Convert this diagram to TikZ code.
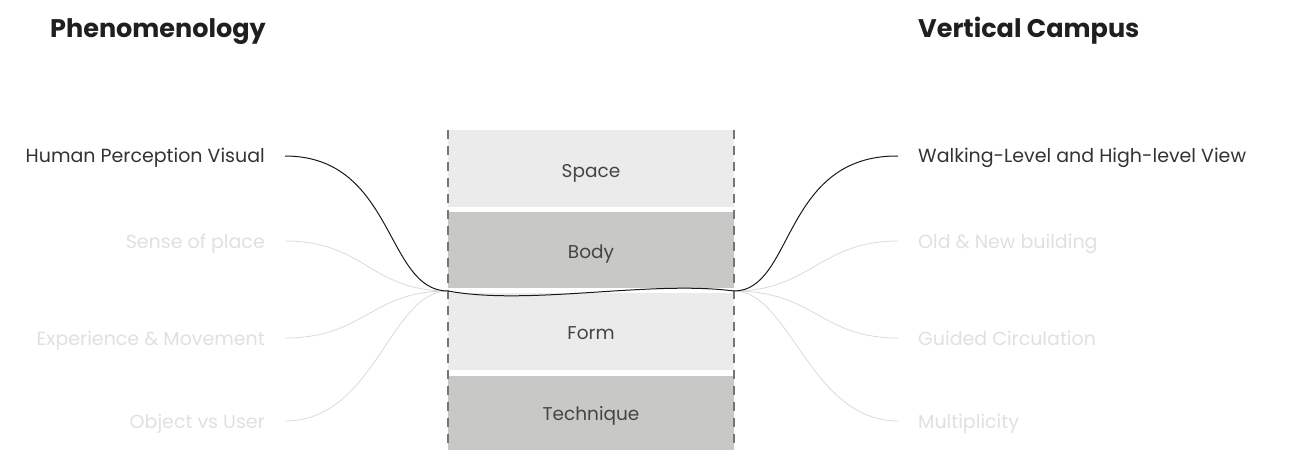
\documentclass[tikz,border=0pt]{standalone}
\usepackage{fontspec}
\setmainfont{Poppins}
\definecolor{boxlight}{HTML}{EBEBEB}
\definecolor{boxdark}{HTML}{C8C8C7}
\definecolor{dashgray}{HTML}{767676}
\definecolor{txtdark}{HTML}{333333}
\definecolor{txtlight}{HTML}{E0E0E0}
\definecolor{linelight}{HTML}{DADADA}
\definecolor{boxtxt}{HTML}{444444}
\begin{document}
\begin{tikzpicture}[x=1pt,y=-1pt,
  layer/.style={draw=none,minimum width=286pt,inner sep=0pt,text=boxtxt,font=\fontsize{18.5}{22}\selectfont},
  boxlbl/.style={inner sep=0pt,text=boxtxt,text height=0.7em,text depth=0pt,font=\fontsize{18.5}{22}\selectfont},
  lbl/.style={inner sep=0pt,text height=0.7em,text depth=0pt,font=\fontsize{19}{22}\selectfont},
  head/.style={inner sep=0pt,anchor=west,text height=0.7em,text depth=0pt,font=\fontsize{25.5}{28}\selectfont\bfseries,text=black!88},
  darkline/.style={draw=black!90,line width=1pt},
  lightline/.style={draw=linelight,line width=0.8pt},
  dashedge/.style={draw=dashgray,line width=1.5pt,dash pattern=on 9pt off 7pt}]
\useasboundingbox (0,0) rectangle (1294,450);
% headings
\node[head] (hphen) at (50,33.5) {Phenomenology};
\node[head] (hvert) at (918,33.5) {Vertical Campus};
% layers
\node[layer,fill=boxlight,minimum height=77pt] (space) at (591,168.5) {};
\node[layer,fill=boxdark,minimum height=76pt] (body) at (591,250) {};
\node[layer,fill=boxlight,minimum height=77pt] (form) at (591,331.5) {};
\node[layer,fill=boxdark,minimum height=74pt] (tech) at (591,413) {};
\node[boxlbl] (spacet) at (591,174) {Space};
\node[boxlbl] (bodyt) at (591,254.5) {Body};
\node[boxlbl] (formt) at (591,335.5) {Form};
\node[boxlbl] (techt) at (591,416.5) {Technique};
\draw[dashedge] (space.north west) -- (tech.south west);
\draw[dashedge] (space.north east) -- (tech.south east);
% hubs
\coordinate (hl) at (448,291);
\coordinate (hr) at (734,291);
% left labels
\node[lbl,anchor=east,text=txtdark] (l1) at (265,159) {Human Perception Visual};
\node[lbl,anchor=east,text=txtlight] (l2) at (265,245) {Sense of place};
\node[lbl,anchor=east,text=txtlight] (l3) at (265,342) {Experience \& Movement};
\node[lbl,anchor=east,text=txtlight] (l4) at (265,425) {Object vs User};
% right labels
\node[lbl,anchor=west,text=txtdark] (r1) at (918,159) {Walking-Level and High-level View};
\node[lbl,anchor=west,text=txtlight] (r2) at (918,245) {Old \& New building};
\node[lbl,anchor=west,text=txtlight] (r3) at (918,342) {Guided Circulation};
\node[lbl,anchor=west,text=txtlight] (r4) at (918,425) {Multiplicity};
% light connectors
\draw[lightline] ([xshift=20pt,yshift=4pt]l2.east) .. controls +(80,0) and (370,291) .. (hl);
\draw[lightline] ([xshift=20pt,yshift=4pt]l3.east) .. controls +(80,0) and (370,291) .. (hl);
\draw[lightline] ([xshift=20pt,yshift=4pt]l4.east) .. controls +(90,0) and (390,291) .. (hl);
\draw[lightline] (hr) .. controls (810,291) and (820,241) .. ([xshift=-20pt,yshift=4pt]r2.west);
\draw[lightline] (hr) .. controls (815,291) and (820,338) .. ([xshift=-20pt,yshift=4pt]r3.west);
\draw[lightline] (hr) .. controls (790,291) and (810,421) .. ([xshift=-20pt,yshift=4pt]r4.west);
% dark connectors
\draw[darkline] ([xshift=20pt,yshift=3pt]l1.east) .. controls +(110,0) and (385,291) .. (hl)
  .. controls (530,306) and (650,280) .. (hr)
  .. controls (794,291) and (782,155) .. ([xshift=-20pt,yshift=3pt]r1.west);
\end{tikzpicture}
\end{document}
